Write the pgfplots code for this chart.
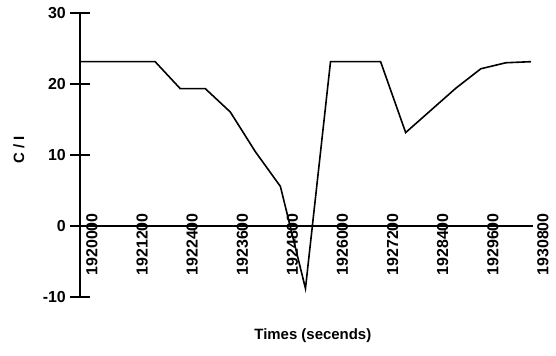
\documentclass[border=0pt]{standalone}
\usepackage{fontspec}
\setmainfont{Liberation Sans}
\usepackage{pgfplots}
\pgfplotsset{compat=1.18}
\begin{document}
\begin{tikzpicture}
\begin{axis}[
  scale only axis,
  width=453bp, height=283.5bp,
  xmin=1920000, xmax=1930850,
  ymin=-10, ymax=30,
  axis x line=middle,
  axis y line=left,
  axis line style={line width=2.2bp, -},
  hide obscured x ticks=false,
  scaled x ticks=false,
  ytick={-10,0,10,20,30},
  yticklabels={-10,0,10,20,30},
  xtick={1920000,1921200,1922400,1923600,1924800,1926000,1927200,1928400,1929600,1930800},
  xticklabels={1920000,1921200,1922400,1923600,1924800,1926000,1927200,1928400,1929600,1930800},
  tick align=center,
  major tick length=20bp,
  ytick style={line width=2bp, black},
  xtick style={draw=none},
  tick label style={font=\fontsize{16}{19}\selectfont\bfseries, inner sep=0pt},
  xticklabel style={xshift=12bp, yshift=23bp, rotate=90, anchor=east},
  yticklabel style={anchor=east, xshift=-4bp},
  xlabel={Times (secends)},
  ylabel={C / I},
  label style={font=\fontsize{15}{18}\selectfont\bfseries},
  xlabel style={at={(axis description cs:0.514,-0.1376)}, anchor=center},
  ylabel style={at={(axis description cs:-0.135,0.52)}, anchor=center},
  clip=false,
]
\coordinate (sw) at (rel axis cs:0,0);
\coordinate (ne) at (rel axis cs:1,1);
\addplot[black, line width=1.6bp, mark=none] coordinates {
(1920000,23.2)
(1921800,23.2)
(1922400,19.4)
(1923000,19.4)
(1923600,16.1)
(1924200,10.5)
(1924800,5.6)
(1925400,-8.8)
(1926000,23.2)
(1927200,23.2)
(1927800,13.2)
(1929000,19.45)
(1929600,22.2)
(1930200,23.05)
(1930800,23.2)
};
\end{axis}
\pgfresetboundingbox
\path ([shift={(-80bp,-59bp)}]sw) rectangle ([shift={(23bp,13.5bp)}]ne);
\end{tikzpicture}
\end{document}
